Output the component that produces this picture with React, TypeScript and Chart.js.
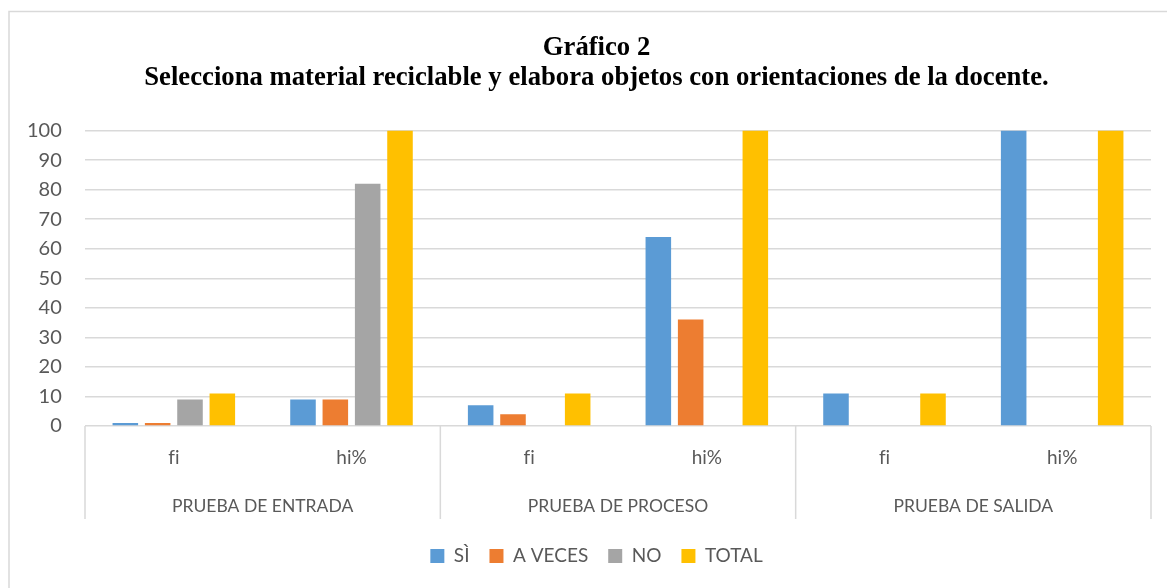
import { useEffect, useRef } from 'react';
import { Chart, registerables } from 'chart.js';

Chart.register(...registerables);

const titleLines = [
  'Gráfico 2',
  'Selecciona material reciclable y elabora objetos con orientaciones de la docente.',
];
const subCategories = ['fi', 'hi%', 'fi', 'hi%', 'fi', 'hi%'];
const groups = ['PRUEBA DE ENTRADA', 'PRUEBA DE PROCESO', 'PRUEBA DE SALIDA'];
const seriesNames = ['SÌ', 'A VECES', 'NO', 'TOTAL'];
const si = [1, 9, 7, 64, 11, 100];
const aVeces = [1, 9, 4, 36, 0, 0];
const no = [9, 82, 0, 0, 0, 0];
const total = [11, 100, 11, 100, 11, 100];
const colors = ['#5B9BD5', '#ED7D31', '#A5A5A5', '#FFC000'];

const TICK_FONT = 'Lato';
const GRID = '#d9d9d9';
const TEXT = '#595959';

const groupPlugin = {
  id: 'groupPlugin',
  beforeDraw(chart: any) {
    const { ctx, width, height } = chart;
    try {
      (ctx as any).textRendering = 'optimizeSpeed';
    } catch (e) {}
    ctx.save();
    ctx.strokeStyle = GRID;
    ctx.lineWidth = 1.5;
    ctx.beginPath();
    ctx.moveTo(9, height);
    ctx.lineTo(9, 11.5);
    ctx.lineTo(width, 11.5);
    ctx.stroke();
    ctx.restore();
  },
  afterDraw(chart: any) {
    const { ctx, chartArea } = chart;
    const x = chart.scales.x;
    const half = (x.getPixelForValue(1) - x.getPixelForValue(0)) / 2;
    ctx.save();
    ctx.strokeStyle = GRID;
    ctx.lineWidth = 1.5;
    for (let g = 0; g <= groups.length; g++) {
      const px =
        g < groups.length
          ? x.getPixelForValue(g * 2) - half
          : x.getPixelForValue(groups.length * 2 - 1) + half;
      ctx.beginPath();
      ctx.moveTo(px, chartArea.bottom);
      ctx.lineTo(px, 519);
      ctx.stroke();
    }
    ctx.fillStyle = TEXT;
    ctx.font = `17.5px ${TICK_FONT}`;
    ctx.textAlign = 'center';
    ctx.textBaseline = 'middle';
    groups.forEach((label, g) => {
      const cx = (x.getPixelForValue(g * 2) + x.getPixelForValue(g * 2 + 1)) / 2;
      ctx.fillText(label, cx, 506);
    });
    ctx.restore();
  },
};

export default function App() {
  const ref = useRef<HTMLCanvasElement>(null);
  useEffect(() => {
    if (!ref.current) return;
    const series = [si, aVeces, no, total];
    const chart = new Chart(ref.current, {
      type: 'bar',
      data: {
        labels: subCategories,
        datasets: seriesNames.map((name, i) => ({
          label: name,
          data: series[i],
          backgroundColor: colors[i],
          borderWidth: 0,
          categoryPercentage: 0.728,
          barPercentage: 0.79,
        })),
      },
      options: {
        animation: false,
        responsive: false,
        layout: { padding: { left: 42, right: 16, top: 10, bottom: 12.5 } },
        plugins: {
          title: {
            display: true,
            text: titleLines,
            color: '#000',
            font: { family: 'Liberation Serif', size: 26.7, weight: 'bold', lineHeight: '30px' },
            padding: { top: 23.5, bottom: 37 },
          },
          legend: {
            position: 'bottom',
            labels: {
              boxWidth: 14,
              boxHeight: 14,
              padding: 20,
              color: TEXT,
              font: { family: TICK_FONT, size: 19 },
            },
          },
          tooltip: { enabled: false },
        },
        scales: {
          x: {
            grid: { display: false, drawTicks: false },
            border: { display: false },
            ticks: { color: TEXT, font: { family: TICK_FONT, size: 19 }, padding: 20 },
            afterFit: (s: any) => {
              s.height = 100.5;
            },
          },
          y: {
            min: 0,
            max: 100,
            ticks: {
              stepSize: 10,
              color: TEXT,
              font: { family: TICK_FONT, size: 20 },
              mirror: true,
              crossAlign: 'far',
              padding: -58,
            },
            grid: { color: GRID, lineWidth: 1.5, drawTicks: false },
            border: { display: false },
            afterFit: (s: any) => {
              s.width = 43;
            },
          },
        },
      },
      plugins: [groupPlugin],
    });
    return () => chart.destroy();
  }, []);
  return (
    <div style={{ position: 'absolute', left: 0, top: 0, width: 1167, height: 588, background: '#fff' }}>
      <canvas ref={ref} width={1167} height={588} style={{ display: 'block' }} />
    </div>
  );
}
